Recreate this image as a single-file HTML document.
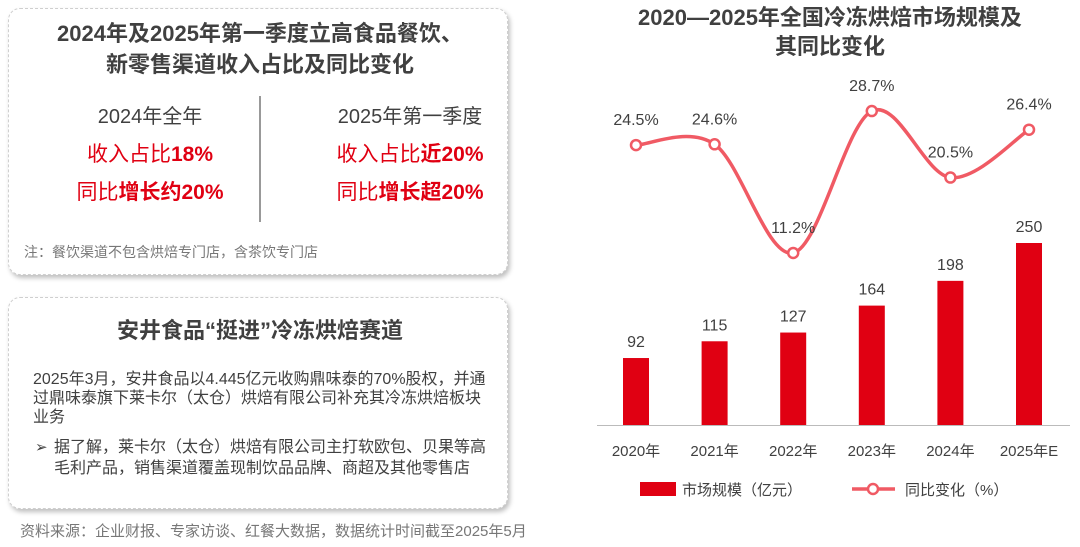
<!DOCTYPE html>
<html><head><meta charset="utf-8"><style>
body{margin:0;width:1080px;height:547px;background:#fff;font-family:"Liberation Sans","Noto Sans CJK SC",sans-serif;position:relative;overflow:hidden;color:#404040}
.card{position:absolute;background:#fff;border:1.5px dashed #cfcfcf;border-radius:12px;box-shadow:2px 3px 5px rgba(0,0,0,.25)}
.t{position:absolute;white-space:nowrap}
.red{color:#e00012}
b{font-weight:bold}
</style></head><body>
<div class="card" style="left:8px;top:8px;width:498px;height:265px"></div>
<div class="t" style="left:0;width:520px;text-align:center;top:18px;font-size:22px;font-weight:bold;line-height:31px;color:#404040">2024年及2025年第一季度立高食品餐饮、<br>新零售渠道收入占比及同比变化</div>
<div style="position:absolute;left:259px;top:96px;width:1.5px;height:126px;background:#999"></div>
<div class="t" style="left:50px;width:200px;text-align:center;top:100px;font-size:20px">2024年全年</div>
<div class="t red" style="left:50px;width:200px;text-align:center;top:138px;font-size:21px">收入占比<b>18%</b></div>
<div class="t red" style="left:50px;width:200px;text-align:center;top:176px;font-size:21px">同比<b>增长约20%</b></div>
<div class="t" style="left:300px;width:220px;text-align:center;top:100px;font-size:20px">2025年第一季度</div>
<div class="t red" style="left:300px;width:220px;text-align:center;top:138px;font-size:21px">收入占比<b>近20%</b></div>
<div class="t red" style="left:300px;width:220px;text-align:center;top:176px;font-size:21px">同比<b>增长超20%</b></div>
<div class="t" style="left:24px;top:242px;font-size:14px;color:#777">注：餐饮渠道不包含烘焙专门店，含茶饮专门店</div>

<div class="card" style="left:8px;top:297px;width:498px;height:210px"></div>
<div class="t" style="left:0;width:520px;text-align:center;top:313px;font-size:22px;font-weight:bold">安井食品“挺进”冷冻烘焙赛道</div>
<div class="t" style="left:33px;top:370px;font-size:16px;line-height:19px;white-space:normal;width:456px">2025年3月，安井食品以4.445亿元收购鼎味泰的70%股权，并通过鼎味泰旗下莱卡尔（太仓）烘焙有限公司补充其冷冻烘焙板块业务</div>
<div class="t" style="left:35px;top:438px;font-size:15px;line-height:19px">➢</div>
<div class="t" style="left:54px;top:437px;font-size:16px;line-height:21px;white-space:normal;width:436px">据了解，莱卡尔（太仓）烘焙有限公司主打软欧包、贝果等高毛利产品，销售渠道覆盖现制饮品品牌、商超及其他零售店</div>
<div class="t" style="left:20px;top:520px;font-size:15px;color:#777">资料来源：企业财报、专家访谈、红餐大数据，数据统计时间截至2025年5月</div>

<div class="t" style="left:580px;width:500px;text-align:center;top:3px;font-size:22px;font-weight:bold;line-height:29px">2020—2025年全国冷冻烘焙市场规模及<br>其同比变化</div>
<svg id="chart" width="1080" height="547" style="position:absolute;left:0;top:0" font-family="Liberation Sans, Noto Sans CJK SC, sans-serif"></svg>
<script>
const categories=["2020年","2021年","2022年","2023年","2024年","2025年E"];
const sizes=[92,115,127,164,198,250];
const growth=[24.5,24.6,11.2,28.7,20.5,26.4];
const svg=document.getElementById('chart');
const NS='http://www.w3.org/2000/svg';
const x=i=>636+i*78.6;
const yb=v=>425-v*0.728;
const yl=v=>343.8-v*8.11;
function mk(t,a,p){const e=document.createElementNS(NS,t);for(const k in a)e.setAttribute(k,a[k]);(p||svg).appendChild(e);return e;}
categories.forEach((c,i)=>{
 const r=mk('rect',{x:x(i)-13,y:yb(sizes[i]),width:26,height:425-yb(sizes[i]),fill:'#e00012'});
 
 
 const t=mk('text',{x:x(i),y:yb(sizes[i])-11,'text-anchor':'middle','font-size':16,fill:'#404040'});t.textContent=sizes[i];
 
 
 const xl=mk('text',{x:x(i),y:456,'text-anchor':'middle','font-size':15,fill:'#404040'});xl.textContent=c;
 
 
});
const axis=mk('line',{x1:597,x2:1070,y1:425.5,y2:425.5,stroke:'#bbb','stroke-width':1});


const pts=growth.map((v,i)=>[x(i),yl(v)]);
let d='M'+pts[0][0]+','+pts[0][1];
for(let i=0;i<pts.length-1;i++){
 const p0=pts[Math.max(0,i-1)],p1=pts[i],p2=pts[i+1],p3=pts[Math.min(pts.length-1,i+2)];
 const k=1/6;
 d+=` C${p1[0]+(p2[0]-p0[0])*k},${p1[1]+(p2[1]-p0[1])*k} ${p2[0]-(p3[0]-p1[0])*k},${p2[1]-(p3[1]-p1[1])*k} ${p2[0]},${p2[1]}`;
}
const line=mk('path',{d:d,fill:'none',stroke:'#f05a64','stroke-width':3.5});


pts.forEach((p,i)=>{
 const c=mk('circle',{cx:p[0],cy:p[1],r:5,fill:'#fff',stroke:'#f05a64','stroke-width':2.5});
 
 
 const t=mk('text',{x:p[0],y:p[1]-20,'text-anchor':'middle','font-size':16,fill:'#404040'});t.textContent=growth[i].toFixed(1)+'%';
 
 
});
const lg1=mk('rect',{x:640,y:482,width:36,height:14,fill:'#e00012'});


const lt1=mk('text',{x:682,y:495,'font-size':15,fill:'#404040'});lt1.textContent='市场规模（亿元）';


const lg2=mk('line',{x1:852,x2:895,y1:489,y2:489,stroke:'#f05a64','stroke-width':3.5});


const lc=mk('circle',{cx:873,cy:489,r:5,fill:'#fff',stroke:'#f05a64','stroke-width':2.5});


const lt2=mk('text',{x:905,y:495,'font-size':15,fill:'#404040'});lt2.textContent='同比变化（%）';


</script>
</body></html>
